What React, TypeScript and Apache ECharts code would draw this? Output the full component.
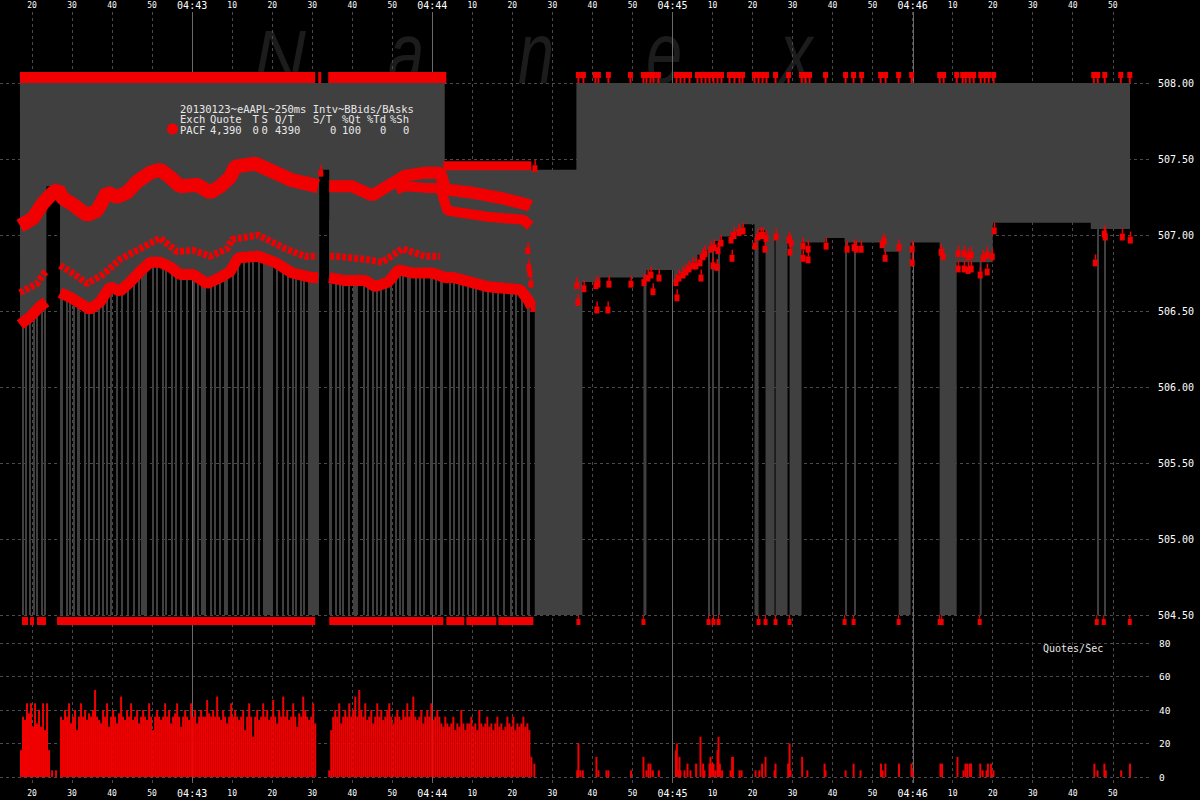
import React, { useEffect, useRef } from "react";
import * as echarts from "echarts";

// ---------- constants ----------
const RED = "#f00000";
const GRAY = "#404040";
const GRID_LINE = "#4a4a4a";
const MONO = "'DejaVu Sans Mono', monospace";
const X_MIN = 12; // seconds after 04:42:00
const X_MAX = 299.3;
const T_END = 294.3;
const P_TOP = 508;
const P_BOTTOM = 504.5;
const STRIPE_TOP = 507.1;

// ---------- data (time in seconds after 04:42:00) ----------
const minuteTicks = [60, 120, 180, 240];

// best ask (upper edge of spread) steps [start, price]
const askSteps: number[][] = [
  [16.98, 508], [123.1, 507.43], [156, 508],
];

// PACF bid band (lowest band) segments
const bandLowA = [[17, 506.41], [19.5, 506.46], [22, 506.53], [23.5, 506.56]];
const bandLowB = [
  [27, 506.62], [29.5, 506.59], [32, 506.55], [34.5, 506.51], [37, 506.56], [39.5, 506.66],
  [42, 506.63], [44.5, 506.69], [47, 506.76], [49.5, 506.82], [52, 506.82], [54.5, 506.79],
  [57, 506.74], [60.25, 506.74], [63.75, 506.68], [67, 506.72], [69.5, 506.76], [71.5, 506.85],
  [76.5, 506.86], [80.75, 506.82], [85, 506.75], [90, 506.72], [91.5, 506.72],
];
const bandLowC = [
  [94.25, 506.72], [98.25, 506.7], [103.25, 506.7], [105.75, 506.66], [109, 506.69],
  [111.5, 506.77], [115, 506.75], [120, 506.75], [123.25, 506.72], [125.25, 506.72],
  [133.75, 506.66], [142, 506.64], [144, 506.57], [144.75, 506.53],
];

// second (dotted) bid band
const bandMidA = [[17, 506.62], [21.25, 506.68], [22.75, 506.74], [23.5, 506.76]];
const bandMidB = [
  [27, 506.8], [29.5, 506.76], [33.75, 506.68], [37.75, 506.74], [42, 506.84], [47, 506.91],
  [52, 506.98], [56.25, 506.89], [60.25, 506.9], [64.5, 506.86], [68.75, 506.91], [70, 506.97],
  [76.5, 507.0], [83.25, 506.91], [88.25, 506.86], [91.25, 506.86],
];
const bandMidC = [
  [94.5, 506.86], [95.75, 506.86], [103.25, 506.84], [107.5, 506.82], [112.5, 506.91],
  [118.25, 506.86], [122, 506.86],
];

// ask bands
const bandUpperA = [
  [17, 507.06], [20.25, 507.11], [22.75, 507.21], [25.25, 507.28], [26.5, 507.3], [27.75, 507.24],
  [30.25, 507.2], [33.75, 507.13], [36.25, 507.16], [38.75, 507.28], [41.25, 507.25],
  [43.75, 507.28], [46.25, 507.35], [49.5, 507.41], [52, 507.43], [54.5, 507.38], [57, 507.32],
  [61.25, 507.33], [64.5, 507.28], [67, 507.32], [69.5, 507.38], [70.75, 507.45], [75.75, 507.47],
  [80.75, 507.41], [85, 507.36], [90, 507.33], [91.5, 507.32],
];
const bandUpperB = [
  [94.25, 507.32], [100, 507.32], [105, 507.26], [110, 507.34], [113.25, 507.39], [118.25, 507.41],
  [122, 507.41], [123.25, 507.3], [129.5, 507.28], [137.75, 507.24], [143.75, 507.2], [144.5, 507.19],
];
const bandUpperC = [
  [111, 507.3], [113.25, 507.32], [118.25, 507.31], [122, 507.31], [123.75, 507.16],
  [133.75, 507.12], [142.75, 507.1], [144.5, 507.06],
];
const bandAskPinned = [[122.75, 507.455], [144.75, 507.455]];

// bid after 04:44:25 as steps [start, price] (504.5 = off the bottom of the chart)
const bidSteps: number[][] = [
  [145.6, 504.5], [157.5, 506.69], [162, 506.72], [172.75, 504.5], [173.5, 506.77], [180.25, 506.69],
  [181.25, 506.74], [183.75, 506.78], [185.25, 506.82], [186.25, 506.87], [187.75, 506.9],
  [189, 506.93], [190.25, 506.96], [192, 506.99], [195.25, 507.02], [197.5, 507.07], [200.5, 504.5],
  [201.5, 507.03], [203.25, 504.5], [205.5, 506.99], [205.75, 504.5], [208.75, 506.97],
  [209.25, 504.5], [212.25, 506.95], [218.25, 506.98], [223, 506.95], [232.75, 506.89],
  [236.5, 504.5], [239.5, 506.95], [246.75, 504.5], [251, 506.82], [256.75, 504.5],
  [257.25, 506.82], [260, 507.08], [284.5, 507.04],
];

// bid briefly off the chart: gray stripes [start, end]
const stripes = [
  [17.5, 17.75], [18.25, 18.5], [19.25, 19.5], [20.25, 20.5], [21, 21.4], [22.25, 22.5], [23, 23.5],
  [27, 27.75], [28.5, 28.75], [29.25, 29.5], [30.25, 30.5], [31.25, 32], [33, 33.25], [34, 34.25],
  [35.25, 35.75], [36.5, 36.75], [37.5, 37.75], [38.5, 38.75], [39.5, 40], [41, 41.25],
  [42.25, 42.5], [43.75, 44.25], [45.25, 45.5], [46.5, 46.75], [47.25, 48.75], [50, 50.25],
  [51, 51.25], [52.5, 52.75], [53.25, 53.75], [54.75, 55], [55.75, 56], [57, 57.5], [58.5, 58.75],
  [60.25, 60.5], [61.25, 61.5], [62.25, 63.5], [64.5, 64.75], [65.5, 65.75], [66.75, 67], [68, 69],
  [70, 70.25], [71.25, 71.5], [72.75, 73.25], [74, 74.25], [75, 75.25], [76.5, 77], [77.75, 80.25],
  [81, 81.5], [82.5, 82.75], [83.75, 84.25], [85, 85.25], [85.75, 86.25], [87, 87.25],
  [87.75, 88.25], [89, 91.75], [94.25, 95], [95.75, 96], [96.75, 97], [97.5, 97.75], [99, 99.5],
  [100.25, 101.5], [102.75, 103], [103.75, 104], [105, 105.25], [106, 106.25], [107, 107.5],
  [108.25, 108.75], [109.5, 109.75], [110.75, 111], [111.75, 112], [112.5, 112.75],
  [113.75, 114.75], [115.75, 116], [116.75, 117], [117.75, 118.25], [119.5, 120.25],
  [120.75, 121.25], [122, 122.75], [124.25, 124.5], [125.25, 125.75], [126.5, 126.75],
  [127.5, 127.75], [128.75, 129], [130, 130.25], [130.75, 131.25], [132.5, 132.75], [133.75, 134],
  [135, 135.25], [136.25, 136.5], [137.75, 138.25], [139.5, 140], [140.75, 141.25],
  [142.25, 142.5], [143.75, 144.5], [189, 189.25], [190, 190.25], [191.5, 191.75],
  [223, 223.25], [225.25, 225.5], [286, 286.25], [287.75, 288],
];

// isolated PACF quotes [t, price]
const quotePts = [
  [92, 507.41], [145.5, 507.44], [143.75, 506.9], [144, 506.79], [144.25, 506.75], [144.5, 506.68],
  [144.75, 506.55], [145, 506.52],
  [156, 506.67], [156.25, 506.56], [157.75, 506.65], [160.75, 506.67], [161, 506.51], [161.25, 506.68],
  [163.75, 506.51], [164, 506.68], [169.5, 506.68], [172.75, 506.69], [173.75, 506.72], [174.5, 506.74],
  [175, 506.63], [176.5, 506.72], [180.75, 506.69], [181, 506.59], [181.5, 506.72], [182.5, 506.74],
  [183.25, 506.76], [184, 506.78], [185, 506.8], [185.75, 506.8], [186.75, 506.82], [187, 506.72],
  [187.5, 506.86], [188, 506.88], [189.5, 506.91], [190, 506.8], [190.25, 506.92], [191, 506.79],
  [191.25, 506.9], [192, 506.95], [194.5, 506.97], [194.75, 506.85], [195.25, 507.0], [196.5, 507.02],
  [197.5, 507.03], [200.5, 506.93], [201.25, 506.99], [202, 507.0], [202.5, 507.0], [203, 506.91],
  [203.25, 506.98], [205.75, 506.99], [209, 506.97], [209.25, 506.89], [209.5, 506.95],
  [212.5, 506.93], [212.5, 506.85], [213.75, 506.91], [213.75, 506.84], [218.25, 506.93],
  [223.5, 506.91], [225.25, 506.92], [225.75, 506.91], [227, 506.91], [232.25, 506.94],
  [232.75, 506.96], [233, 506.85], [236.5, 506.92], [239.75, 506.91], [239.75, 506.82],
  [247, 506.89], [247.5, 506.86], [251.25, 506.88], [251.25, 506.78], [252.75, 506.88],
  [252.75, 506.78], [253.75, 506.86], [253.75, 506.77], [254.5, 506.87], [254.5, 506.78],
  [256.75, 506.74], [257.5, 506.85], [258.5, 506.87], [258.5, 506.76], [259.75, 506.86],
  [260.25, 507.03], [285.5, 506.82], [287.75, 507.01], [288, 506.99], [292.25, 506.99],
  [294.25, 506.97],
];

// quotes pinned above / below the price range
const topBars = [[16.98, 90.75], [91.5, 92.25], [94, 123.5]];
const topPins = [
  156.5, 157.75, 160.75, 161.5, 164, 169.5, 172.75, 173.5, 174.5, 175.25, 176.5, 181, 182, 183,
  184.25, 186.25, 187.25, 188.25, 189.25, 190.25, 191.25, 192.25, 194.25, 195.5, 196.75, 197.5,
  200.5, 201.5, 202.5, 203.5, 205.75, 209, 212.25, 213.25, 214.25, 218.25, 223.25, 225.25, 227.25,
  232, 233.25, 236.5, 239.75, 246.75, 247.75, 251, 252.5, 253.25, 254.25, 255.25, 257, 258, 259,
  260.25, 285.25, 286.25, 288, 292, 294.25,
];
const bottomBars = [
  [17.5, 19], [19.5, 20.5], [21.25, 23.5], [26.25, 90.75], [94.25, 122.75], [123.5, 128],
  [128.5, 136], [136.5, 145.25],
];
const bottomPins = [
  156.5, 172.75, 189, 190.25, 191.5, 201.5, 203.25, 205.75, 209.25, 223, 225.25, 236.5, 246.75,
  247.25, 256.75, 286, 287.75, 294.25,
];

// quotes per second, half-second buckets
const volAStart = 17.25;
const volA = [16, 36, 34, 44, 38, 44, 30, 44, 32, 40, 30, 44, 28, 44, 16];
const volBStart = 27.25;
const volB = [
  36, 34, 40, 36, 44, 32, 36, 40, 28, 36,
  44, 36, 40, 34, 38, 36, 40, 52, 36, 34,
  32, 40, 36, 44, 30, 36, 40, 36, 32, 38,
  48, 36, 34, 40, 36, 44, 34, 36, 40, 32,
  36, 40, 36, 34, 44, 36, 28, 36, 40, 36,
  34, 36, 44, 36, 40, 32, 36, 38, 44, 36,
  30, 36, 40, 36, 34, 44, 36, 40, 32, 36,
  40, 36, 36, 46, 38, 36, 40, 36, 48, 36,
  34, 40, 36, 32, 36, 44, 36, 40, 36, 34,
  36, 40, 28, 36, 44, 36, 24, 36, 40, 34,
  36, 44, 36, 40, 34, 36, 46, 36, 32, 40,
  36, 48, 36, 40, 34, 36, 44, 36, 30, 38,
  36, 48, 40, 36, 34, 36, 44, 32,
];
const volCStart = 94.25;
const volC = [
  4, 28, 36, 40, 36, 44, 32, 36, 40, 36,
  44, 36, 40, 48, 36, 52, 40, 36, 44, 34,
  36, 40, 32, 36, 44, 36, 40, 34, 36, 40,
  44, 36, 32, 36, 40, 36, 34, 40, 36, 44,
  36, 40, 48, 36, 34, 36, 40, 32, 36, 40,
  36, 44, 34, 36, 40, 36, 32, 30, 36, 32,
  30, 32, 36, 28, 32, 30, 40, 32, 28, 32,
  32, 36, 30, 32, 28, 40, 32, 30, 32, 36,
  30, 32, 28, 32, 36, 30, 32, 28, 30, 36,
  32, 30, 36, 28, 32, 30, 32, 36, 30, 32,
  28, 12,
];
const volSparse = [
  [25, 4], [26, 4], [145.5, 8], [156.2, 4], [156.5, 20], [157, 4], [157.6, 4], [161, 12], [161.5, 4],
  [163.5, 4], [164, 4], [169.65, 4], [172.75, 12], [173.5, 4], [174, 8], [174.5, 8], [175.1, 4],
  [176.6, 4], [180.85, 16], [181.1, 20], [181.4, 4], [181.75, 12], [182, 4], [183, 4], [183.75, 8],
  [184.5, 4], [185.9, 8], [187, 24], [187.65, 8], [188, 4], [189.25, 8], [189.5, 12], [189.9, 8],
  [190.25, 8], [190.7, 4], [191.25, 16], [191.5, 24], [191.85, 8], [192.4, 4], [194.5, 4],
  [194.9, 12], [195.1, 12], [196.75, 4], [197.25, 4], [200.75, 4], [201.7, 4], [202.4, 8],
  [203.25, 12], [205.5, 4], [205.75, 8], [208.9, 8], [209.25, 20], [209.5, 4], [212.4, 12],
  [213.7, 4], [218, 8], [218.25, 4], [223.25, 4], [225.25, 8], [227, 4], [232.1, 8], [232.5, 4],
  [233.2, 8], [236.6, 8], [239.7, 8], [240, 4], [246.95, 8], [247.35, 8], [251.2, 12], [252.7, 4],
  [253.2, 8], [253.65, 8], [254.3, 8], [254.6, 8], [256.9, 8], [257.5, 4], [258.45, 4], [258.8, 8],
  [259.6, 8], [260.2, 4], [285.4, 8], [286.2, 4], [287.9, 8], [288.25, 4], [292.1, 4], [294.3, 8],
];

// legend table
const legendTitle = "20130123~eAAPL~250ms Intv~BBids/BAsks";
const legendHeader = ["Exch", "Quote", "T", "S", "Q/T", "S/T", "%Qt", "%Td", "%Sh"];
const legendRow = ["PACF", "4,390", "0", "0", "4390", "0", "100", "0", "0"];

// ---------- derived shapes ----------
function stepPoints(steps: number[][], tEnd: number) {
  const pts: number[][] = [];
  steps.forEach(([t, p], i) => {
    const tn = i + 1 < steps.length ? steps[i + 1][0] : tEnd;
    pts.push([t, p], [tn, p]);
  });
  return pts;
}
const bidLinear = [
  ...bandLowA, [23.6, 506.56], [23.6, 507.32], [27, 507.32],
  ...bandLowB, [91.75, 506.72], [91.75, 507.43], [94.25, 507.43],
  ...bandLowC, [144.75, 506.55], [145.6, 506.55],
];
const spreadPolygon = [
  ...stepPoints(askSteps, T_END),
  ...[...bidLinear, ...stepPoints(bidSteps, T_END)].reverse(),
];

function bucketData(start: number, vals: number[]) {
  return vals.map((v, i) => [start + i * 0.5, v]);
}
const volData = [
  ...bucketData(volAStart, volA),
  ...bucketData(volBStart, volB),
  ...bucketData(volCStart, volC),
  ...volSparse,
].sort((a, b) => a[0] - b[0]);

const fmtTime = (v: number) => {
  const s = Math.round(v);
  if (Math.abs(v - s) > 0.01 || s % 10 !== 0 || s >= 299 || s <= 12) return "";
  if (s % 60 === 0) return `{m|04:${42 + s / 60}}`;
  return String(s % 60);
};

const GRID_LEFT = 0;
const GRID_RIGHT = 50;

function bandSeries(data: number[][], width: number, dashed = false) {
  return {
    type: "line",
    xAxisIndex: 2,
    yAxisIndex: 1,
    data,
    symbol: "none",
    showSymbol: false,
    silent: true,
    z: 4,
    lineStyle: { color: RED, width, cap: "butt", type: dashed ? [4, 2] : "solid" },
  };
}

function buildOption() {
  const xBase = {
    type: "value",
    min: X_MIN,
    max: X_MAX,
    splitNumber: 29,
    minInterval: 10,
    maxInterval: 10,
    axisLine: { show: false },
    axisTick: { show: false },
  };
  const timeLabel = {
    color: "#ffffff",
    fontFamily: MONO,
    fontSize: 8,
    lineHeight: 10,
    formatter: fmtTime,
    showMaxLabel: false,
    showMinLabel: false,
    rich: { m: { fontSize: 10, lineHeight: 10, fontFamily: MONO, color: "#ffffff" } },
  };
  const headerX = [180, 210, 252.5, 261.5, 275, 313, 342, 367, 390];
  const rowX = [180, 210, 252.5, 261.5, 275, 330, 342, 380, 403];
  const txt = (t: string, x: number, y: number, size = 10.5) => ({
    type: "text",
    x,
    y,
    z: 100,
    silent: true,
    style: {
      text: t,
      fill: "#e8e8e8",
      fontSize: size,
      lineHeight: 10,
      fontFamily: MONO,
      verticalAlign: "middle",
      align: "left",
    },
  });
  return {
    animation: false,
    backgroundColor: "#000000",
    grid: [
      { left: GRID_LEFT, right: GRID_RIGHT, top: 12, bottom: 17 },
      { left: GRID_LEFT, right: GRID_RIGHT, top: 83, height: 532 },
      { left: GRID_LEFT, right: GRID_RIGHT, top: 643, height: 134 },
    ],
    xAxis: [
      {
        ...xBase,
        gridIndex: 0,
        position: "top",
        axisLabel: { ...timeLabel, margin: 2 },
        splitLine: {
          show: true,
          showMinLine: false,
          showMaxLine: false,
          lineStyle: { color: GRID_LINE, type: [3, 3], width: 1 },
        },
      },
      {
        ...xBase,
        gridIndex: 0,
        position: "bottom",
        axisLabel: { ...timeLabel, margin: 5 },
        splitLine: { show: false },
      },
      { ...xBase, gridIndex: 1, show: false },
      { ...xBase, gridIndex: 2, show: false },
    ],
    yAxis: [
      { type: "value", gridIndex: 0, min: 0, max: 1, show: false },
      {
        type: "value",
        gridIndex: 1,
        position: "right",
        min: P_BOTTOM,
        max: P_TOP,
        interval: 0.5,
        axisLine: { show: false },
        axisTick: { show: false },
        axisLabel: {
          color: "#ffffff",
          fontFamily: MONO,
          fontSize: 10,
          margin: 8,
          formatter: (v: number) => v.toFixed(2),
        },
        splitLine: { show: true, lineStyle: { color: GRID_LINE, type: [3, 3], width: 1 } },
      },
      {
        type: "value",
        gridIndex: 2,
        position: "right",
        min: 0,
        max: 80,
        interval: 20,
        axisLine: { show: false },
        axisTick: { show: false },
        axisLabel: { color: "#ffffff", fontFamily: MONO, fontSize: 9.5, margin: 9 },
        splitLine: { show: true, lineStyle: { color: GRID_LINE, type: [3, 3], width: 1 } },
      },
    ],
    graphic: [
      ...[
        { ch: "N", x: 254, y: 56, size: 72, sx: 1 },
        { ch: "a", x: 388, y: 52, size: 88, sx: 0.74 },
        { ch: "n", x: 518, y: 52, size: 88, sx: 0.74 },
        { ch: "e", x: 646, y: 52, size: 88, sx: 0.74 },
        { ch: "x", x: 780, y: 52, size: 88, sx: 0.74 },
      ].map((l) => ({
        type: "text",
        x: l.x,
        y: l.y,
        scaleX: l.sx,
        z: -10,
        silent: true,
        style: {
          text: l.ch,
          fill: "#1c1c1c",
          fontSize: l.size,
          lineHeight: Math.round(l.size * 0.9),
          fontStyle: "italic",
          fontFamily: "'Liberation Sans', Arial, sans-serif",
          verticalAlign: "middle",
          align: "left",
        },
      })),
      { type: "circle", shape: { cx: 172.5, cy: 129, r: 5.5 }, style: { fill: RED }, z: 100 },
      txt(legendTitle, 180, 108.5),
      ...legendHeader.map((t, i) => txt(t, headerX[i], 119.3)),
      ...legendRow.map((t, i) => txt(t, rowX[i], 130.1)),
      txt("Quotes/Sec", 1043, 648, 10),
    ],
    series: [
      {
        type: "custom",
        name: "minuteLines",
        xAxisIndex: 0,
        yAxisIndex: 0,
        z: 1,
        silent: true,
        data: minuteTicks.map((t) => [t, 0]),
        renderItem: (_p: any, api: any) => {
          const a = api.coord([api.value(0), 0]);
          const b = api.coord([api.value(0), 1]);
          const x = Math.round(a[0]) + 0.5;
          return {
            type: "line",
            shape: { x1: x, y1: a[1], x2: x, y2: b[1] },
            style: { stroke: "#6a6a6a", lineWidth: 1 },
          };
        },
      },
      {
        type: "custom",
        name: "spread",
        xAxisIndex: 2,
        yAxisIndex: 1,
        z: 2,
        silent: true,
        clip: true,
        data: [[150, 506]],
        renderItem: (_p: any, api: any) => ({
          type: "polygon",
          shape: { points: spreadPolygon.map((pt) => api.coord(pt)) },
          style: { fill: GRAY },
        }),
      },
      {
        type: "custom",
        name: "stripes",
        xAxisIndex: 2,
        yAxisIndex: 1,
        z: 2,
        silent: true,
        clip: true,
        data: stripes,
        renderItem: (_p: any, api: any) => {
          const a = api.coord([api.value(0), STRIPE_TOP]);
          const b = api.coord([api.value(1), P_BOTTOM]);
          const x0 = Math.round(a[0]);
          const w = Math.max(2, Math.round(b[0]) - x0);
          return { type: "rect", shape: { x: x0, y: a[1], width: w, height: b[1] - a[1] }, style: { fill: GRAY } };
        },
      },
      bandSeries(bandLowA, 11),
      bandSeries(bandLowB, 11),
      bandSeries(bandLowC, 11),
      bandSeries(bandMidA, 7, true),
      bandSeries(bandMidB, 7, true),
      bandSeries(bandMidC, 7, true),
      bandSeries(bandUpperA, 14),
      bandSeries(bandUpperB, 12),
      bandSeries(bandUpperC, 10),
      bandSeries(bandAskPinned, 9),
      {
        type: "custom",
        name: "quotes",
        xAxisIndex: 2,
        yAxisIndex: 1,
        z: 5,
        silent: true,
        data: quotePts,
        renderItem: (_p: any, api: any) => {
          const c = api.coord([api.value(0), api.value(1)]);
          return {
            type: "group",
            children: [
              { type: "rect", shape: { x: c[0] - 2, y: c[1] - 3, width: 5, height: 7 }, style: { fill: RED } },
              { type: "rect", shape: { x: c[0], y: c[1] - 8, width: 1.5, height: 5 }, style: { fill: RED } },
            ],
          };
        },
      },
      {
        type: "custom",
        name: "topBars",
        xAxisIndex: 2,
        yAxisIndex: 1,
        z: 5,
        silent: true,
        clip: false,
        data: topBars,
        renderItem: (_p: any, api: any) => {
          const a = api.coord([api.value(0), P_TOP]);
          const b = api.coord([api.value(1), P_TOP]);
          return { type: "rect", shape: { x: a[0], y: a[1] - 11, width: b[0] - a[0], height: 11 }, style: { fill: RED } };
        },
      },
      {
        type: "custom",
        name: "topPins",
        xAxisIndex: 2,
        yAxisIndex: 1,
        z: 5,
        silent: true,
        clip: false,
        data: topPins.map((t) => [t, P_TOP]),
        renderItem: (_p: any, api: any) => {
          const c = api.coord([api.value(0), P_TOP]);
          return {
            type: "group",
            children: [
              { type: "rect", shape: { x: c[0] - 2.5, y: c[1] - 11, width: 5, height: 6 }, style: { fill: RED } },
              { type: "rect", shape: { x: c[0] - 1, y: c[1] - 5.5, width: 2, height: 5.5 }, style: { fill: RED } },
            ],
          };
        },
      },
      {
        type: "custom",
        name: "bottomBars",
        xAxisIndex: 2,
        yAxisIndex: 1,
        z: 5,
        silent: true,
        clip: false,
        data: bottomBars,
        renderItem: (_p: any, api: any) => {
          const a = api.coord([api.value(0), P_BOTTOM]);
          const b = api.coord([api.value(1), P_BOTTOM]);
          return { type: "rect", shape: { x: a[0], y: a[1] + 2, width: b[0] - a[0], height: 8 }, style: { fill: RED } };
        },
      },
      {
        type: "custom",
        name: "bottomPins",
        xAxisIndex: 2,
        yAxisIndex: 1,
        z: 5,
        silent: true,
        clip: false,
        data: bottomPins.map((t) => [t, P_BOTTOM]),
        renderItem: (_p: any, api: any) => {
          const c = api.coord([api.value(0), P_BOTTOM]);
          return {
            type: "group",
            children: [
              { type: "rect", shape: { x: c[0] - 0.5, y: c[1], width: 1, height: 5 }, style: { fill: RED } },
              { type: "rect", shape: { x: c[0] - 2, y: c[1] + 4, width: 4, height: 6 }, style: { fill: RED } },
            ],
          };
        },
      },
      {
        type: "bar",
        name: "Quotes/Sec",
        xAxisIndex: 3,
        yAxisIndex: 2,
        barWidth: 2,
        z: 3,
        silent: true,
        data: volData,
        itemStyle: { color: RED },
      },
    ],
  };
}

export default function App() {
  const ref = useRef<HTMLDivElement>(null);
  useEffect(() => {
    if (!ref.current) return;
    const chart = echarts.init(ref.current, null, { renderer: "svg" });
    chart.setOption(buildOption() as any);
    return () => chart.dispose();
  }, []);
  return (
    <div
      ref={ref}
      style={{ position: "fixed", left: 0, top: 0, width: 1200, height: 800, background: "#000" }}
    />
  );
}
